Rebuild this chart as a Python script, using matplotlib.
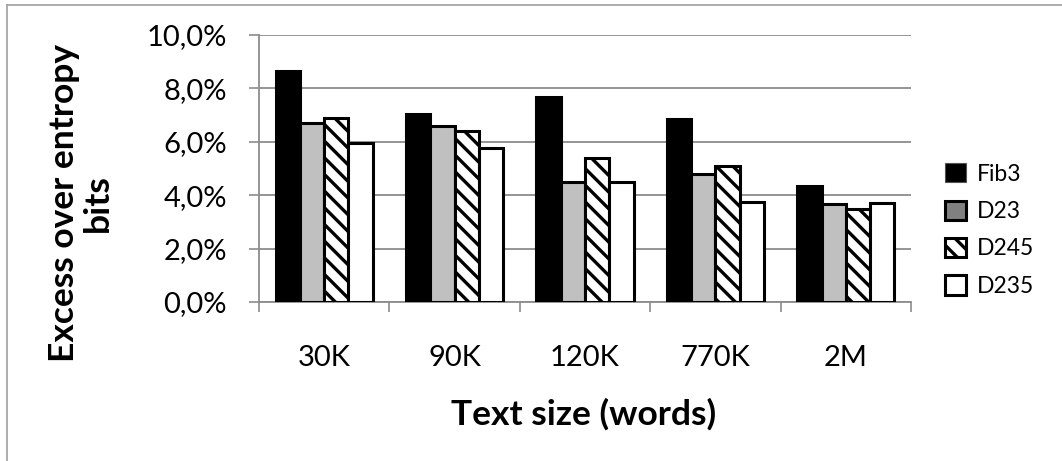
import matplotlib
matplotlib.use("Agg")
import matplotlib.pyplot as plt
import numpy as np
from matplotlib.patches import Patch
from matplotlib.lines import Line2D
from matplotlib.ticker import FuncFormatter

plt.rcParams['font.family'] = ['Lato', 'DejaVu Sans']
plt.rcParams['hatch.linewidth'] = 2.4

categories = ["30K", "90K", "120K", "770K", "2M"]
series_names = ["Fib3", "D23", "D245", "D235"]
fib3 = [8.65, 7.03, 7.69, 6.84, 4.35]
d23 = [6.69, 6.59, 4.48, 4.81, 3.66]
d245 = [6.91, 6.41, 5.41, 5.11, 3.49]
d235 = [5.94, 5.75, 4.48, 3.75, 3.71]
y_ticks = [0, 2, 4, 6, 8, 10]

series = [fib3, d23, d245, d235]
faces = ["black", "#c0c0c0", "white", "white"]
hatches = [None, None, "\\\\", None]
legend_faces = ["black", "#808080", "white", "white"]

W, H = 1062, 461
fig = plt.figure(figsize=(W / 100, H / 100), dpi=100)
ax = fig.add_axes([259 / W, 1 - 302 / H, (911 - 259) / W, (302 - 35) / H])

grid_col = "#8c8c8c"
x = np.arange(len(categories))
bw = 0.745 / 4
for i, vals in enumerate(series):
    ax.bar(x - 0.3725 + bw * (i + 0.5), vals, width=bw, color=faces[i],
           edgecolor="black", linewidth=2.2, hatch=hatches[i], zorder=3)

ax.set_xlim(-0.5, len(categories) - 0.5)
ax.set_ylim(0, 10)
ax.set_yticks(y_ticks)
ax.yaxis.set_major_formatter(FuncFormatter(lambda v, p: f"{v:.1f}%".replace(".", ",")))
ax.yaxis.grid(True, color=grid_col, linewidth=1.3, zorder=0)
ax.set_axisbelow(True)

ax.set_xticks(x)
ax.set_xticklabels(categories)
ax.set_xticks(np.arange(len(categories) + 1) - 0.5, minor=True)
ax.tick_params(axis="x", which="major", length=0, pad=31, labelsize=21, colors="black")
ax.tick_params(axis="x", which="minor", length=7, width=1.2, color=grid_col, direction="out")
ax.tick_params(axis="y", length=7, width=1.2, color=grid_col, labelsize=21, pad=16,
               labelcolor="black")

for s in ["top", "right"]:
    ax.spines[s].set_visible(False)
for s in ["left", "bottom"]:
    ax.spines[s].set_color(grid_col)
    ax.spines[s].set_linewidth(1.3)

fig.text(584 / W, 1 - 414 / H, "Text size (words)", ha="center", va="center",
         fontsize=25.5, fontweight="bold")
fig.text(81 / W, 1 - 203 / H, "Excess over entropy\nbits", ha="center", va="center",
         rotation=90, fontsize=25.5, fontweight="bold", linespacing=1.1, multialignment="center")

handles = []
for i in range(4):
    handles.append(Patch(facecolor=legend_faces[i], edgecolor="black" if i else "#555555",
                         linewidth=2.2 if i else 0.8, hatch=hatches[i]))
fig.legend(handles, series_names, loc="center left", bbox_to_anchor=(936 / W, 1 - 230 / H),
           frameon=False, fontsize=16.5, handlelength=0.9, handleheight=0.9,
           handletextpad=0.5, labelspacing=0.7, borderaxespad=0)

# thin frame along the top and left edges
fig.add_artist(Line2D([7 / W, 1], [1 - 5 / H, 1 - 5 / H], color="#a6a6a6", linewidth=1.3))
fig.add_artist(Line2D([7 / W, 7 / W], [0, 1 - 5 / H], color="#a6a6a6", linewidth=1.3))

fig.savefig("out.png", dpi=100)
